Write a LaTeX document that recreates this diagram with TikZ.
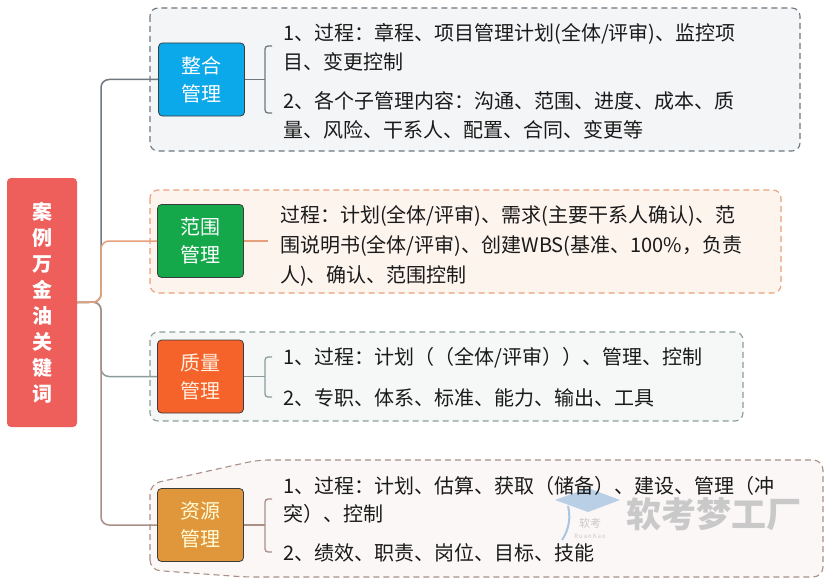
\documentclass[tikz,border=0pt]{standalone}
\usepackage{fontspec}
\setmainfont{Noto Sans CJK SC}
\usetikzlibrary{calc}
\definecolor{rootc}{HTML}{EE5E5A}
\definecolor{zhc}{HTML}{0BA8EA}
\definecolor{fwc}{HTML}{14A84A}
\definecolor{zlc}{HTML}{F5622A}
\definecolor{zyc}{HTML}{E0973C}
\definecolor{catborder}{HTML}{3C3C3C}
\definecolor{textc}{HTML}{1A1A1A}
\definecolor{l1}{HTML}{6E7880}
\definecolor{l2}{HTML}{E8A07A}
\definecolor{l3}{HTML}{8C9C9C}
\definecolor{l4}{HTML}{A89088}
\definecolor{f1}{HTML}{F4F5F6}
\definecolor{f2}{HTML}{FDF4EE}
\definecolor{f3}{HTML}{F6F8F8}
\definecolor{f4}{HTML}{FAF7F6}
\definecolor{wm}{HTML}{C9C9C9}
\definecolor{wmblue}{HTML}{A9C6E2}
\begin{document}
\begin{tikzpicture}[x=1pt,y=-1pt,
  grp/.style={line width=1.1pt, rounded corners=8pt, dash pattern=on 6pt off 4pt},
  cat/.style={draw=catborder, line width=0.8pt, rounded corners=4pt, minimum width=86pt,
    minimum height=73pt, align=center, inner sep=0pt, font=\fontsize{20}{28}\selectfont},
  item/.style={anchor=west, align=left, inner sep=0pt, text=textc, font=\fontsize{20}{29}\selectfont},
  conn/.style={line width=1.5pt, rounded corners=8pt},
  brace/.style={line width=1.3pt}]
\useasboundingbox (0,0) rectangle (830,586);
\fill[white] (0,0) rectangle (830,586);

% group backgrounds
\filldraw[grp, draw=l1, fill=f1] (150,8) rectangle (800,151);
\filldraw[grp, draw=l2, fill=f2] (150,190) rectangle (781,293);
\filldraw[grp, draw=l3, fill=f3] (150,332) rectangle (743,421);
\filldraw[grp, draw=l4, fill=f4, rounded corners=10pt] (150,570) -- (150,484) -- (258,460) -- (823,460) -- (823,577) -- (245,577) -- cycle;

% watermark
\fill[wmblue, opacity=0.8] (555,500) -- (588,488) -- (620,500) -- (588,512) -- cycle;
\draw[wmblue, line width=2pt] (568,506) .. controls (572,522) and (566,534) .. (562,540);
\node[text=wm, font=\fontsize{11}{11}\selectfont] (wmsmall) at (590,523) {软考};
\node[text=wm, font=\fontsize{6}{6}\selectfont] (wmlatin) at (590,536) {R\,u\,a\,n\,K\,a\,o};
\node[text=wm, font=\fontsize{35}{35}\selectfont\bfseries] (wmbig) at (714,514) {软考梦工厂};

% root
\node[fill=rootc, rounded corners=4pt, minimum width=70pt, minimum height=249pt, inner sep=0pt,
  text=white, align=center, font=\fontsize{20}{26}\selectfont\bfseries] (root) at (42,302.5)
  {案\\例\\万\\金\\油\\关\\键\\词};

% category nodes
\node[cat, fill=zhc, text=white] (zh) at (201.5,79.5) {整合\\管理};
\node[cat, fill=fwc, text=white] (fw) at (200.5,241) {范围\\管理};
\node[cat, fill=zlc, text=white!88!orange] (zl) at (200.5,376.5) {质量\\管理};
\node[cat, fill=zyc, text=white!85!yellow] (zy) at (200.5,525) {资源\\管理};

% trunk connectors
\coordinate (trunk) at (101,302);
\draw[conn, l1] (root.east) -- (trunk) |- (zh.west);
\draw[conn, l3] (root.east) -- (trunk) |- (zl.west);
\draw[conn, l4] (root.east) -- (trunk) |- (zy.west);
\draw[conn, l2] (root.east) -- (trunk) |- (fw.west);

% items group 1
\node[item] (zh1) at (283,47.5) {1、过程：章程、项目管理计划(全体/评审)、监控项\\目、变更控制};
\node[item] (zh2) at (283,115) {2、各个子管理内容：沟通、范围、进度、成本、质\\量、风险、干系人、配置、合同、变更等};
\coordinate (zhb) at (265,79.5);
\draw[brace, l1] (zh.east) -- (zhb);
\draw[brace, l1] (272,46) .. controls (265,46) .. (265,53) -- (265,106) .. controls (265,113) .. (272,113);

% items group 2
\node[item, font=\fontsize{20}{30}\selectfont] (fw1) at (280,246)
  {过程：计划(全体/评审)、需求(主要干系人确认)、范\\围说明书(全体/评审)、创建WBS(基准、100\%，负责\\人)、确认、范围控制};
\coordinate (fwb) at (268,241);
\draw[brace, l2] (fw.east) -- (fwb);

% items group 3
\node[item] (zl1) at (283,358) {1、过程：计划（（全体/评审））、管理、控制};
\node[item] (zl2) at (283,398) {2、专职、体系、标准、能力、输出、工具};
\coordinate (zlb) at (265,376.5);
\draw[brace, l3] (zl.east) -- (zlb);
\draw[brace, l3] (272,357) .. controls (265,357) .. (265,364) -- (265,390) .. controls (265,397) .. (272,397);

% items group 4
\node[item, font=\fontsize{20}{28}\selectfont] (zy1) at (283,500) {1、过程：计划、估算、获取（储备）、建设、管理（冲\\突）、控制};
\node[item] (zy2) at (283,553) {2、绩效、职责、岗位、目标、技能};
\coordinate (zyb) at (265,525);
\draw[brace, l4] (zy.east) -- (zyb);
\draw[brace, l4] (272,499) .. controls (265,499) .. (265,506) -- (265,545) .. controls (265,552) .. (272,552);
\end{tikzpicture}
\end{document}
